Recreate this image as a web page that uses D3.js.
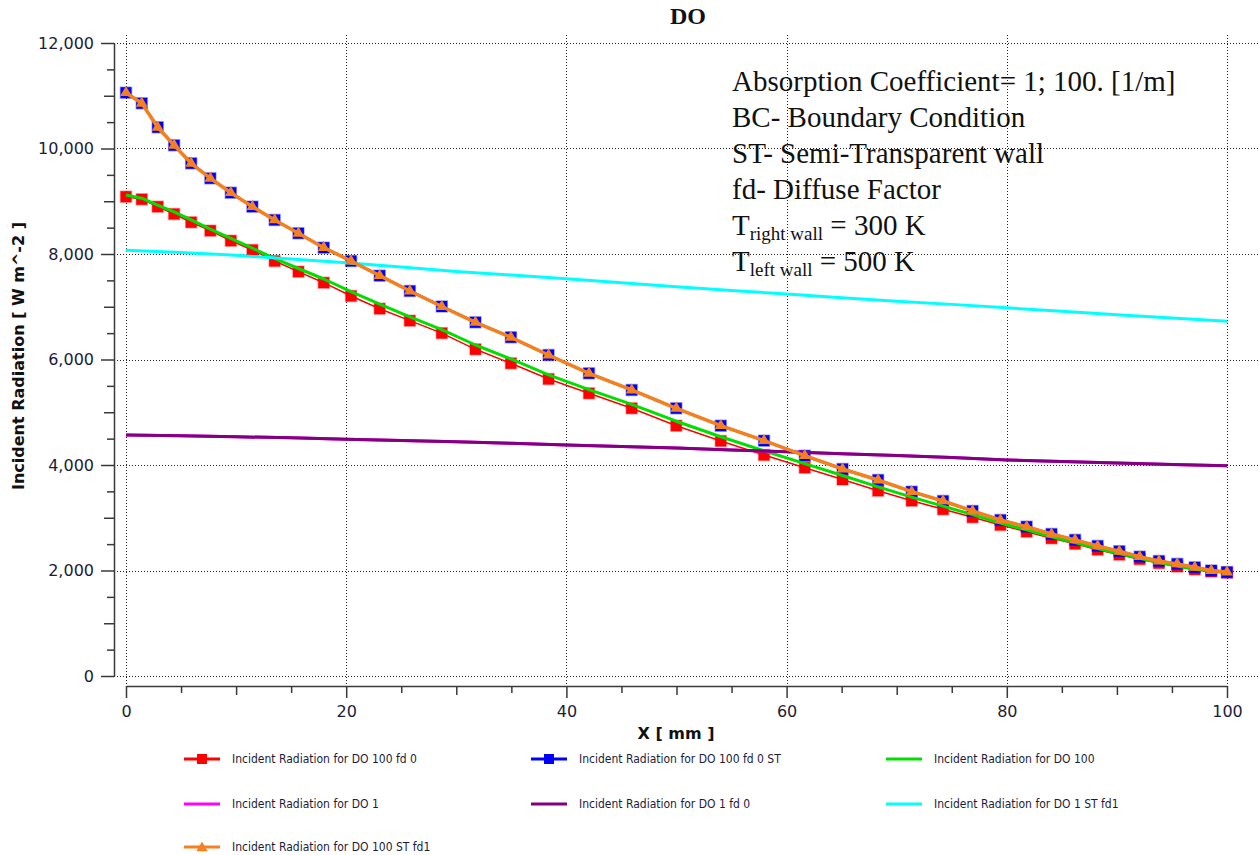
<!DOCTYPE html>
<html>
<head>
<meta charset="utf-8">
<script src="https://cdn.jsdelivr.net/npm/d3@7"></script>
<style>
  body { margin: 0; background: #fff; }
</style>
</head>
<body>
<div id="chart"></div>
<script>
// mesh points of the DO 100 runs [mm]
const xMesh = [0, 1.43, 2.88, 4.37, 5.92, 7.66, 9.52, 11.48, 13.50, 15.66, 17.96, 20.44, 23.04, 25.78,
  28.68, 31.74, 34.96, 38.38, 42.05, 45.93, 49.98, 54.02, 57.95, 61.65, 65.08, 68.31, 71.36, 74.21,
  76.89, 79.42, 81.80, 84.06, 86.20, 88.25, 90.22, 92.07, 93.82, 95.48, 97.07, 98.57, 100];

// sample points of the DO 1 runs [mm]
const xLine = [0, 5, 10, 15, 20, 25, 30, 35, 40, 45, 50, 55, 60, 65, 70, 75, 80, 85, 90, 95, 100];

// Incident radiation [W m^-2]
const do100fd0 = [9086, 9037, 8897, 8758, 8601, 8442, 8252, 8076, 7867, 7665, 7456, 7204, 6963, 6736,
  6500, 6193, 5928, 5630, 5359, 5075, 4745, 4455, 4190, 3949, 3725, 3513, 3323, 3160,
  3009, 2863, 2736, 2610, 2505, 2395, 2300, 2215, 2140, 2075, 2020, 1980, 1958];

const do100fd0ST = [11058, 10857, 10402, 10061, 9719, 9435, 9162, 8897, 8645, 8393, 8120, 7867, 7589, 7299,
  7005, 6705, 6421, 6085, 5738, 5422, 5075, 4745, 4461, 4176, 3924, 3716, 3494, 3318,
  3128, 2957, 2830, 2692, 2580, 2465, 2365, 2262, 2180, 2125, 2060, 2000, 1970];

const do100 = [9118, 9057, 8927, 8798, 8646, 8470, 8295, 8110, 7915, 7725, 7526, 7285, 7050, 6810,
  6565, 6275, 6010, 5710, 5430, 5150, 4830, 4535, 4270, 4025, 3800, 3585, 3390, 3220,
  3060, 2900, 2770, 2640, 2530, 2415, 2320, 2230, 2150, 2085, 2025, 1985, 1962];

const do1 = [4570, 4555, 4535, 4515, 4490, 4465, 4440, 4410, 4380, 4350, 4320, 4285, 4250, 4215,
  4180, 4140, 4095, 4065, 4040, 4010, 3985];

const do1fd0 = [4570, 4555, 4535, 4515, 4490, 4465, 4440, 4410, 4380, 4350, 4320, 4285, 4250, 4215,
  4180, 4140, 4095, 4065, 4040, 4010, 3985];

const do1STfd1 = [8070, 8030, 7975, 7905, 7835, 7755, 7670, 7600, 7530, 7455, 7380, 7310, 7240, 7170,
  7105, 7045, 6980, 6915, 6850, 6785, 6725];

const do100STfd1 = [11058, 10857, 10402, 10061, 9719, 9435, 9162, 8897, 8645, 8393, 8120, 7867, 7589, 7299,
  7005, 6705, 6421, 6085, 5738, 5422, 5075, 4745, 4461, 4176, 3924, 3716, 3494, 3318,
  3128, 2957, 2830, 2692, 2580, 2465, 2365, 2262, 2180, 2125, 2060, 2000, 1970];

const yTicks = [0, 2000, 4000, 6000, 8000, 10000, 12000];
const xTicks = [0, 20, 40, 60, 80, 100];

const noteLines = [
  "Absorption Coefficient= 1; 100. [1/m]",
  "BC- Boundary Condition",
  "ST- Semi-Transparent wall",
  "fd- Diffuse Factor"
];

const series = [
  { name: "Incident Radiation for DO 100 fd 0", xs: xMesh, ys: do100fd0, color: "#ff0000", marker: "square", lw: 1.5 },
  { name: "Incident Radiation for DO 100 fd 0 ST", xs: xMesh, ys: do100fd0ST, color: "#0000ff", marker: "square", lw: 2.5 },
  { name: "Incident Radiation for DO 100", xs: xMesh, ys: do100, color: "#00e000", marker: null, lw: 3 },
  { name: "Incident Radiation for DO 1", xs: xLine, ys: do1, color: "#ff00ff", marker: null, lw: 3 },
  { name: "Incident Radiation for DO 1 fd 0", xs: xLine, ys: do1fd0, color: "#800080", marker: null, lw: 3 },
  { name: "Incident Radiation for DO 1 ST fd1", xs: xLine, ys: do1STfd1, color: "#00ffff", marker: null, lw: 3 },
  { name: "Incident Radiation for DO 100 ST fd1", xs: xMesh, ys: do100STfd1, color: "#f5801e", marker: "triangle", lw: 3.5 }
];

const width = 1259, height = 855;
const TICK_FONT = "'DejaVu Sans', Verdana, sans-serif";
const LEGEND_FONT = "Tahoma, 'DejaVu Sans Condensed', 'Liberation Sans', sans-serif";
const TEXT_COLOR = "#1c1c3a";

const svg = d3.select("#chart").append("svg")
  .attr("width", width)
  .attr("height", height)
  .style("display", "block");

svg.append("rect").attr("width", width).attr("height", height).attr("fill", "#fff");

const x = d3.scaleLinear().domain([0, 100]).range([126, 1227]);
const y = d3.scaleLinear().domain([0, 12000]).range([676, 43]);

// dotted grid
const grid = svg.append("g").attr("stroke", "#222").attr("stroke-width", 1)
  .attr("stroke-dasharray", "1,2").attr("shape-rendering", "crispEdges");
grid.selectAll(".gy").data(yTicks).join("line")
  .attr("x1", 114).attr("x2", width)
  .attr("y1", d => Math.round(y(d)) + 0.5).attr("y2", d => Math.round(y(d)) + 0.5);
grid.selectAll(".gx").data(xTicks).join("line")
  .attr("y1", 35).attr("y2", 686)
  .attr("x1", d => Math.round(x(d)) + 0.5).attr("x2", d => Math.round(x(d)) + 0.5);

// y axis (major, medium, minor ticks)
const yAxisG = svg.append("g").attr("transform", "translate(114,0)");
yAxisG.call(d3.axisLeft(y).tickValues(yTicks).tickSize(13).tickPadding(7)
  .tickSizeOuter(0).tickFormat(d3.format(",")));
yAxisG.append("g").call(d3.axisLeft(y).tickValues([1000, 3000, 5000, 7000, 9000, 11000])
  .tickSize(10).tickFormat("")).select(".domain").remove();
yAxisG.append("g").call(d3.axisLeft(y).tickValues(d3.range(500, 12000, 1000))
  .tickSize(7).tickFormat("")).select(".domain").remove();

// x axis, set a bit below the plot
const xAxisG = svg.append("g").attr("transform", "translate(0,686)");
xAxisG.call(d3.axisBottom(x).tickValues(xTicks).tickSize(12).tickPadding(8).tickSizeOuter(0));
xAxisG.append("g").call(d3.axisBottom(x).tickValues([10, 30, 50, 70, 90])
  .tickSize(9).tickFormat("")).select(".domain").remove();
xAxisG.append("g").call(d3.axisBottom(x).tickValues(d3.range(5, 100, 10))
  .tickSize(7).tickFormat("")).select(".domain").remove();

[yAxisG, xAxisG].forEach(g => {
  g.selectAll("path, line").attr("stroke", "#3a3a3a").attr("stroke-width", 1.5);
  g.selectAll("text").attr("font-family", TICK_FONT).attr("font-size", "16px").attr("fill", TEXT_COLOR);
});

// series
const plot = svg.append("g");
series.forEach(s => {
  const line = d3.line().x((d, i) => x(s.xs[i])).y(d => y(d));
  plot.append("path")
    .datum(s.ys)
    .attr("fill", "none")
    .attr("stroke", s.color)
    .attr("stroke-width", s.lw)
    .attr("stroke-linejoin", "round")
    .attr("d", line);

  if (s.marker === "square") {
    plot.append("g").selectAll("rect").data(s.ys).join("rect")
      .attr("x", (d, i) => x(s.xs[i]) - 5.5)
      .attr("y", d => y(d) - 5.5)
      .attr("width", 11).attr("height", 11)
      .attr("fill", s.color)
      .attr("stroke", s.color).attr("stroke-opacity", 0.35).attr("stroke-width", 1.5);
  } else if (s.marker === "triangle") {
    plot.append("g").selectAll("path").data(s.ys).join("path")
      .attr("d", d3.symbol(d3.symbolTriangle).size(60))
      .attr("transform", (d, i) => `translate(${x(s.xs[i])},${y(d)})`)
      .attr("fill", s.color);
  }
});

// titles
svg.append("text").attr("x", 688).attr("y", 24).text("DO")
  .attr("text-anchor", "middle").attr("font-family", "'Liberation Serif', 'Times New Roman', serif")
  .attr("font-weight", "bold").attr("font-size", "24px").attr("fill", "#111");

svg.append("text").attr("x", 676).attr("y", 739).text("X [ mm ]")
  .attr("text-anchor", "middle").attr("font-family", TICK_FONT)
  .attr("font-weight", "bold").attr("font-size", "16px").attr("fill", "#111");

svg.append("text").attr("transform", "translate(24,356) rotate(-90)").text("Incident Radiation [ W m^-2 ]")
  .attr("text-anchor", "middle").attr("font-family", TICK_FONT)
  .attr("font-weight", "bold").attr("font-size", "16px").attr("fill", "#111");

// annotation block
const note = svg.append("g").attr("font-family", "'Liberation Serif', 'Times New Roman', serif")
  .attr("font-size", "29px").attr("fill", "#111");
noteLines.forEach((t, i) => {
  note.append("text").attr("x", 732).attr("y", 91 + i * 36).text(t);
});
const walls = [["right wall", "300 K"], ["left wall", "500 K"]];
walls.forEach((w, i) => {
  const t = note.append("text").attr("x", 732).attr("y", 91 + (4 + i) * 36);
  t.append("tspan").text("T");
  t.append("tspan").attr("font-size", "19px").attr("dy", 5).text(w[0]);
  t.append("tspan").attr("dy", -5).text(" = " + w[1]);
});

// legend
const legendCols = [184, 531, 886];
const legendRows = [759, 804, 847];
series.forEach((s, i) => {
  const lx = legendCols[i % 3];
  const ly = legendRows[Math.floor(i / 3)];
  const g = svg.append("g").attr("transform", `translate(${lx},${ly})`);
  g.append("line").attr("x1", 0).attr("x2", 36).attr("y1", 0).attr("y2", 0)
    .attr("stroke", s.color).attr("stroke-width", 3);
  if (s.marker === "square") {
    g.append("rect").attr("x", 13).attr("y", -5).attr("width", 10).attr("height", 10).attr("fill", s.color);
  } else if (s.marker === "triangle") {
    g.append("path").attr("d", d3.symbol(d3.symbolTriangle).size(55))
      .attr("transform", "translate(18,1)").attr("fill", s.color);
  }
  g.append("text").attr("x", 48).attr("dy", "0.35em").text(s.name)
    .attr("font-family", LEGEND_FONT).attr("font-size", "12px").attr("fill", TEXT_COLOR);
});
</script>
</body>
</html>
